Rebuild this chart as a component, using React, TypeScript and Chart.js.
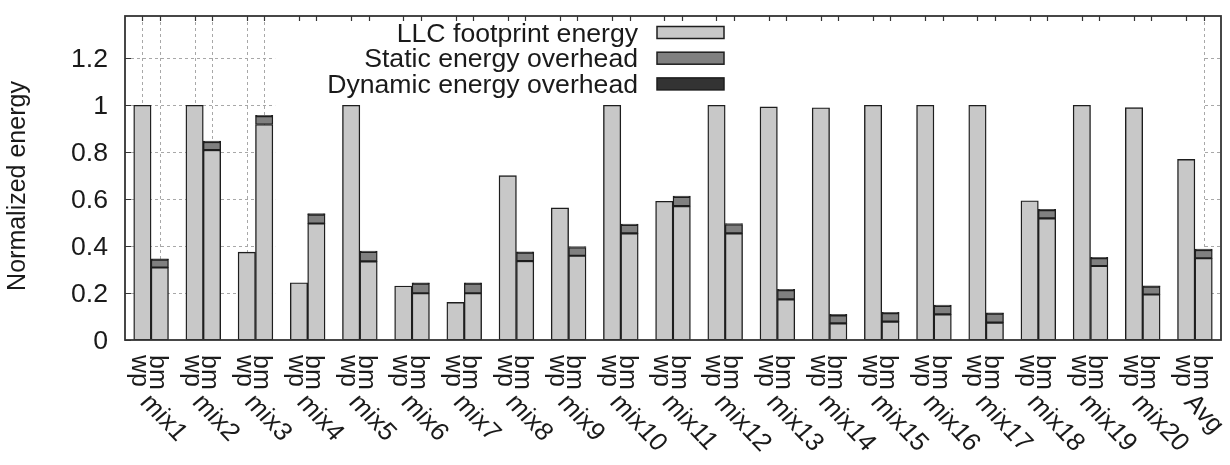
import { useEffect, useRef } from "react";
import { Chart, registerables } from "chart.js";

Chart.register(...registerables);

// Workload mixes (one group of two bars each) and the two configurations per group
const groups = [
  "mix1", "mix2", "mix3", "mix4", "mix5", "mix6", "mix7", "mix8", "mix9", "mix10",
  "mix11", "mix12", "mix13", "mix14", "mix15", "mix16", "mix17", "mix18", "mix19", "mix20", "Avg",
];
const configLabels = ["wp", "bm"];
const seriesNames = ["LLC footprint energy", "Static energy overhead", "Dynamic energy overhead"];

const yTicks = [0, 0.2, 0.4, 0.6, 0.8, 1, 1.2];
const yTickLabels = ["0", "0.2", "0.4", "0.6", "0.8", "1", "1.2"];
const yTitle = "Normalized energy";

// wp configuration: footprint energy only
const wpFootprint = [
  1.0, 1.0, 0.374, 0.244, 1.0, 0.23, 0.16, 0.70, 0.563, 1.0,
  0.591, 1.0, 0.993, 0.989, 1.0, 1.0, 1.0, 0.593, 1.0, 0.99, 0.769,
];
// bm configuration: footprint + static + dynamic overheads
const bmFootprint = [
  0.309, 0.809, 0.918, 0.496, 0.335, 0.199, 0.199, 0.336, 0.359, 0.454,
  0.570, 0.454, 0.173, 0.071, 0.078, 0.109, 0.074, 0.518, 0.315, 0.194, 0.348,
];
const bmStatic = [
  0.033, 0.034, 0.035, 0.038, 0.040, 0.041, 0.041, 0.036, 0.035, 0.036,
  0.039, 0.038, 0.039, 0.034, 0.036, 0.036, 0.038, 0.035, 0.033, 0.033, 0.035,
];
const bmDynamic = [
  0.004, 0.004, 0.004, 0.004, 0.004, 0.004, 0.004, 0.004, 0.004, 0.004,
  0.004, 0.004, 0.004, 0.004, 0.004, 0.004, 0.004, 0.004, 0.004, 0.004, 0.004,
];

const COLORS = ["#c8c8c8", "#808080", "#333333"];
const EDGE = "#1e1e1e";
const INK = "#1a1a1a";
const GRID = "#a8a8a8";
const FS = 25;
const SX = 1.065; // glyphs are slightly wide
const FONT = `${FS}px "Liberation Sans", Arial, Helvetica, sans-serif`;

// each group takes three slots: wp, bm, gap
const slotOf = (g: number, i: number) => g * 3 + 1 + i;
const X_MAX = groups.length * 3;
// region covered by the opaque key backdrop (in slot units)
const KEY_FROM = 8.63;
const KEY_TO = 62;

function drawText(
  ctx: CanvasRenderingContext2D,
  text: string,
  x: number,
  y: number,
  angle: number,
  align: CanvasTextAlign
) {
  ctx.save();
  ctx.translate(x, y);
  ctx.scale(SX, 1);
  ctx.rotate(angle);
  ctx.textAlign = align;
  ctx.textBaseline = "alphabetic";
  ctx.fillText(text, 0, 0);
  ctx.restore();
}

const framePlugin = {
  id: "gnuFrame",
  beforeDatasetsDraw(chart: any) {
    const { ctx, chartArea: a, scales } = chart;
    const x = scales.x;
    const y = scales.y;
    ctx.save();
    ctx.strokeStyle = GRID;
    ctx.lineWidth = 1;
    ctx.setLineDash([3, 3]);
    ctx.beginPath();
    yTicks.forEach((v) => {
      if (v === 0) return;
      const py = Math.round(y.getPixelForValue(v)) + 0.5;
      ctx.moveTo(a.left, py);
      ctx.lineTo(a.right, py);
    });
    groups.forEach((_, g) =>
      configLabels.forEach((__, i) => {
        const px = Math.round(x.getPixelForValue(slotOf(g, i))) + 0.5;
        ctx.moveTo(px, a.top);
        ctx.lineTo(px, a.bottom);
      })
    );
    ctx.stroke();
    ctx.setLineDash([]);
    const bx0 = x.getPixelForValue(KEY_FROM);
    const bx1 = x.getPixelForValue(KEY_TO);
    ctx.fillStyle = "#ffffff";
    ctx.fillRect(bx0, a.top, bx1 - bx0, a.bottom - a.top);
    ctx.restore();
  },
  afterDatasetsDraw(chart: any) {
    const { ctx, chartArea: a, scales } = chart;
    const x = scales.x;
    const y = scales.y;
    ctx.save();

    // plot border and inward tick marks
    ctx.strokeStyle = "#333";
    ctx.lineWidth = 1.2;
    ctx.beginPath();
    groups.forEach((_, g) =>
      configLabels.forEach((__, i) => {
        const px = Math.round(x.getPixelForValue(slotOf(g, i))) + 0.5;
        ctx.moveTo(px, a.top);
        ctx.lineTo(px, a.top + 5);
      })
    );
    yTicks.forEach((v) => {
      const py = Math.round(y.getPixelForValue(v)) + 0.5;
      ctx.moveTo(a.left, py);
      ctx.lineTo(a.left + 6, py);
    });
    ctx.stroke();
    ctx.lineWidth = 1.8;
    ctx.strokeRect(a.left, a.top, a.right - a.left, a.bottom - a.top);

    ctx.fillStyle = INK;
    ctx.font = FONT;

    // y tick labels
    yTicks.forEach((v, k) => {
      drawText(ctx, yTickLabels[k], a.left - 17, y.getPixelForValue(v) + 0.358 * FS, 0, "right");
    });

    // y axis title
    drawText(ctx, yTitle, 25, (a.top + a.bottom) / 2 + 8, -Math.PI / 2, "center");

    // configuration labels, rotated to read downward
    groups.forEach((_, g) =>
      configLabels.forEach((lab, i) => {
        const px = x.getPixelForValue(slotOf(g, i));
        drawText(ctx, lab, px - 10, a.bottom + 15, Math.PI / 2, "left");
      })
    );

    // group labels, slanted
    groups.forEach((name, g) => {
      const px = x.getPixelForValue(slotOf(g, 0) + 0.5);
      drawText(ctx, name, px - 12, a.bottom + 63, (48 * Math.PI) / 180, "left");
    });

    // key
    const keyTextRight = 638;
    const keyBoxLeft = 657;
    const keyBoxW = 67;
    const keyBoxH = 12;
    chart.data.datasets.forEach((ds: any, k: number) => {
      const base = 41.5 + k * 25.7;
      ctx.fillStyle = INK;
      drawText(ctx, ds.label, keyTextRight, base, 0, "right");
      const cy = base - 9;
      ctx.fillStyle = ds.backgroundColor;
      ctx.fillRect(keyBoxLeft, cy - keyBoxH / 2, keyBoxW, keyBoxH);
      ctx.strokeStyle = EDGE;
      ctx.lineWidth = 1.5;
      ctx.strokeRect(keyBoxLeft, cy - keyBoxH / 2, keyBoxW, keyBoxH);
    });

    ctx.restore();
  },
};

export default function App() {
  const canvasRef = useRef<HTMLCanvasElement | null>(null);

  useEffect(() => {
    const canvas = canvasRef.current;
    if (!canvas) return;

    const footprintPoints = groups.flatMap((_, g) => [
      { x: slotOf(g, 0), y: wpFootprint[g] },
      { x: slotOf(g, 1), y: bmFootprint[g] },
    ]);
    const staticPoints = groups.map((_, g) => ({ x: slotOf(g, 1), y: bmStatic[g] }));
    const dynamicPoints = groups.map((_, g) => ({ x: slotOf(g, 1), y: bmDynamic[g] }));

    const common = {
      borderColor: EDGE,
      borderWidth: 1.4,
      borderSkipped: false,
      barPercentage: 1,
      categoryPercentage: 1,
    };

    const chart = new Chart(canvas, {
      type: "bar",
      data: {
        datasets: [
          { label: seriesNames[0], data: footprintPoints, backgroundColor: COLORS[0], ...common },
          { label: seriesNames[1], data: staticPoints, backgroundColor: COLORS[1], ...common },
          { label: seriesNames[2], data: dynamicPoints, backgroundColor: COLORS[2], ...common },
        ] as any,
      },
      options: {
        animation: false,
        responsive: false,
        devicePixelRatio: 1,
        layout: { padding: { left: 125, right: 9, top: 16, bottom: 125 } },
        plugins: { legend: { display: false }, tooltip: { enabled: false } },
        scales: {
          x: {
            type: "linear",
            display: false,
            stacked: true,
            offset: false,
            min: 0,
            max: X_MAX,
          },
          y: {
            display: false,
            stacked: true,
            min: 0,
            max: 1.38,
          },
        },
      } as any,
      plugins: [framePlugin],
    });

    return () => chart.destroy();
  }, []);

  return (
    <div
      style={{
        position: "fixed",
        left: 0,
        top: 0,
        width: 1230,
        height: 465,
        background: "#ffffff",
      }}
    >
      <canvas ref={canvasRef} width={1230} height={465} style={{ display: "block" }} />
    </div>
  );
}
